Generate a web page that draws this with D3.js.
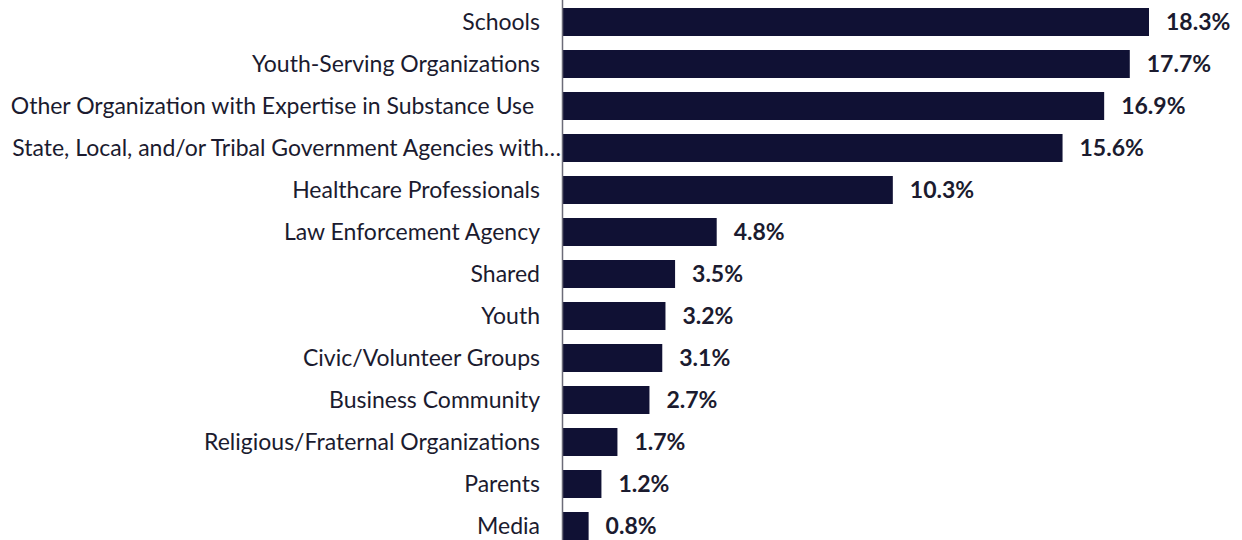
<!DOCTYPE html>
<html>
<head>
<meta charset="utf-8">
<script src="https://cdn.jsdelivr.net/npm/d3@7"></script>
<style>
  html, body { margin: 0; padding: 0; background: #ffffff; }
  svg { display: block; }
  .cat { font-family: "Source Sans Pro", Lato, "Noto Sans", sans-serif; font-size: 23px; fill: #1b1b2f; white-space: pre; }
  .val { font-family: "Source Sans Pro", Lato, "Noto Sans", sans-serif; font-size: 23px; font-weight: 700; fill: #1b1b2f; }
</style>
</head>
<body>
<svg id="chart" width="1242" height="540"></svg>
<script>
// Partner categories and share of responses (%)
const categories = [
  "Schools",
  "Youth-Serving Organizations",
  "Other Organization with Expertise in Substance Use ",
  "State, Local, and/or Tribal Government Agencies with…",
  "Healthcare Professionals",
  "Law Enforcement Agency",
  "Shared",
  "Youth",
  "Civic/Volunteer Groups",
  "Business Community",
  "Religious/Fraternal Organizations",
  "Parents",
  "Media"
];
const values = [18.3, 17.7, 16.9, 15.6, 10.3, 4.8, 3.5, 3.2, 3.1, 2.7, 1.7, 1.2, 0.8];
const valueLabels = ["18.3%", "17.7%", "16.9%", "15.6%", "10.3%", "4.8%", "3.5%", "3.2%", "3.1%", "2.7%", "1.7%", "1.2%", "0.8%"];

const data = categories.map((c, i) => ({ cat: c, value: values[i], label: valueLabels[i] }));

const svg = d3.select("#chart");
const barColor = "#101134";
const axisX = 562;

const x = d3.scaleLinear().domain([0, 18.3]).range([563, 1149]);
const y = d3.scaleBand()
  .domain(categories)
  .range([1, 547])
  .paddingInner(1 / 3)
  .paddingOuter(1 / 6);

// Bars
svg.append("g").selectAll("rect")
  .data(data)
  .join("rect")
  .attr("x", x(0))
  .attr("y", d => y(d.cat))
  .attr("width", d => x(d.value) - x(0))
  .attr("height", y.bandwidth())
  .attr("fill", barColor);

// Category axis (labels only, with a vertical baseline)
const yAxis = d3.axisLeft(y).tickSize(0).tickPadding(0);
const gAxis = svg.append("g").attr("transform", `translate(${axisX},0)`).call(yAxis);
gAxis.select(".domain").remove();
gAxis.selectAll("text")
  .attr("class", "cat")
  .attr("font-family", null)
  .attr("font-size", null)
  .attr("fill", null)
  .attr("dy", "0.35em")
  .attr("x", d => d.endsWith("…") ? -1 : -22);

svg.append("line")
  .attr("x1", axisX + 0.5).attr("x2", axisX + 0.5)
  .attr("y1", 0).attr("y2", 540)
  .attr("stroke", "#6b6b78")
  .attr("stroke-width", 1.5);

// Value labels at bar ends
svg.append("g").selectAll("text")
  .data(data)
  .join("text")
  .attr("class", "val")
  .attr("x", d => x(d.value) + 17)
  .attr("y", d => y(d.cat) + y.bandwidth() / 2)
  .attr("dy", "0.35em")
  .text(d => d.label);
</script>
</body>
</html>
